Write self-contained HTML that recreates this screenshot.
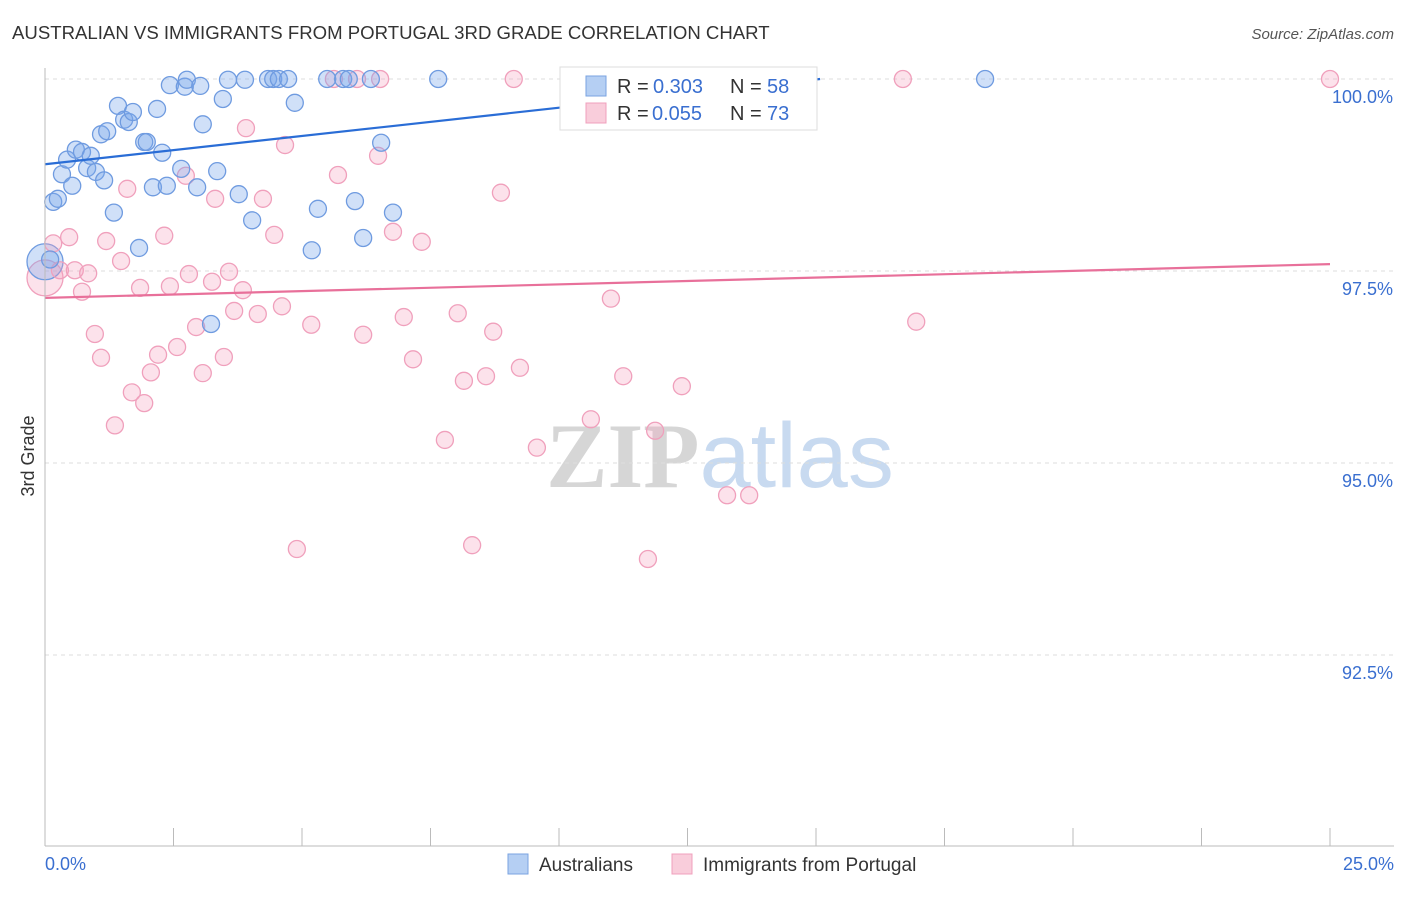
<!DOCTYPE html>
<html><head><meta charset="utf-8"><style>
body{margin:0;background:#fff;font-family:"Liberation Sans",sans-serif;}
svg text{font-family:"Liberation Sans",sans-serif;}
</style></head><body>
<svg id="chart" width="1406" height="892">
<text x="12" y="39" font-size="18.6" fill="#333">AUSTRALIAN VS IMMIGRANTS FROM PORTUGAL 3RD GRADE CORRELATION CHART</text>
<text x="1394" y="39" font-size="15" fill="#555" text-anchor="end" font-style="italic">Source: ZipAtlas.com</text>
<text x="720" y="487" font-size="92" fill="#ddd" text-anchor="middle" font-weight="bold"><tspan fill="#d6d6d6" font-family="Liberation Serif">ZIP</tspan><tspan fill="#c8daf0" font-weight="normal">atlas</tspan></text>
<g id="grid"></g><g id="pts"></g><g id="lines"></g>
<line x1="45" y1="68" x2="45" y2="846" stroke="#bbb"/>
<line x1="45" y1="846" x2="1394" y2="846" stroke="#bbb"/>
<text x="45" y="870" font-size="18" fill="#3a6fd0">0.0%</text>
<text x="1394" y="870" font-size="18" fill="#3a6fd0" text-anchor="end">25.0%</text>
<text x="34" y="456" font-size="18" fill="#333" text-anchor="middle" transform="rotate(-90 34 456)">3rd Grade</text>
<g>
<rect x="560" y="67" width="257" height="63" fill="#fff" stroke="#ddd"/>
<rect x="586" y="76" width="20" height="20" fill="#b5cff3" stroke="#7aa3e0"/>
<rect x="586" y="103" width="20" height="20" fill="#f9cddb" stroke="#f0a0bc"/>
<text x="617" y="93" font-size="20" fill="#333">R = </text><text x="653" y="93" font-size="20" fill="#3a6fd0">0.303</text>
<text x="730" y="93" font-size="20" fill="#333">N = </text><text x="767" y="93" font-size="20" fill="#3a6fd0">58</text>
<text x="617" y="120" font-size="20" fill="#333">R = </text><text x="652" y="120" font-size="20" fill="#3a6fd0">0.055</text>
<text x="730" y="120" font-size="20" fill="#333">N = </text><text x="767" y="120" font-size="20" fill="#3a6fd0">73</text>
</g>
<g>
<rect x="508" y="854" width="20" height="20" fill="#b5cff3" stroke="#7aa3e0"/>
<text x="539" y="871" font-size="19" fill="#333">Australians</text>
<rect x="672" y="854" width="20" height="20" fill="#f9cddb" stroke="#f0a0bc"/>
<text x="703" y="871" font-size="19" fill="#333">Immigrants from Portugal</text>
</g>
</svg>
<script>
const yTicks=[100,97.5,95,92.5];
const yTickLabels=["100.0%","97.5%","95.0%","92.5%"];
const xTicks=[0,2.5,5,7.5,10,12.5,15,17.5,20,22.5,25];
const blueX=[0.16,0.25,0.33,0.43,0.53,0.60,0.72,0.82,0.89,0.99,1.15,1.09,1.21,1.34,1.42,1.54,1.63,1.71,1.83,1.93,1.98,2.10,2.18,2.28,2.37,2.43,2.65,2.72,2.76,2.96,3.02,3.07,3.23,3.35,3.46,3.56,3.77,3.89,4.03,4.34,4.44,4.55,4.73,4.86,5.19,5.31,5.49,5.80,5.91,6.03,6.19,6.34,6.54,6.77,7.65,18.29,0.10];
const blueY=[98.40,98.44,98.76,98.95,98.61,99.08,99.05,98.84,99.00,98.79,98.68,99.28,99.32,98.26,99.65,99.47,99.44,99.57,97.80,99.18,99.18,98.59,99.61,99.04,98.61,99.92,98.83,99.90,99.99,98.59,99.91,99.41,96.81,98.80,99.74,99.99,98.50,99.99,98.16,100,100,100,100,99.69,97.77,98.31,100,100,100,98.41,97.93,100,99.17,98.26,100,100,97.65];
const pinkX=[0.16,0.29,0.47,0.58,0.72,0.84,0.97,1.09,1.19,1.36,1.48,1.60,1.69,1.85,1.93,2.06,2.20,2.32,2.43,2.57,2.74,2.80,2.94,3.07,3.25,3.31,3.48,3.58,3.68,3.85,3.91,4.14,4.24,4.46,4.61,4.67,4.90,5.18,5.70,5.62,6.07,6.19,6.48,6.52,6.77,6.98,7.16,7.33,7.78,8.03,8.15,8.31,8.58,8.72,8.87,9.12,9.24,9.57,10.62,11.01,11.25,11.73,11.87,12.39,13.27,13.70,13.85,16.69,16.95,25.0];
const pinkY=[97.86,97.51,97.94,97.51,97.23,97.47,96.68,96.37,97.89,95.49,97.63,98.57,95.92,97.28,95.78,96.18,96.41,97.96,97.30,96.51,98.74,97.46,96.77,96.17,97.36,98.44,96.38,97.49,96.98,97.25,99.36,96.94,98.44,97.97,97.04,99.14,93.88,96.80,98.75,100,100,96.67,99.00,100,98.01,96.90,96.35,97.88,95.30,96.95,96.07,93.93,96.13,96.71,98.52,100,96.24,95.20,95.57,97.14,96.13,93.75,95.42,96.00,94.58,94.58,100,100,96.84,100];
const bigBlue=[0,97.62], bigPink=[0,97.41];
const blueTrend=[[0,98.89],[15.08,100.0]];
const pinkTrend=[[0,97.15],[25,97.59]];
const NS="http://www.w3.org/2000/svg";
const sx=v=>45+v/25*1285, sy=v=>79+(100-v)/2.5*192;
function mk(tag,attrs,parent){const e=document.createElementNS(NS,tag);for(const k in attrs)e.setAttribute(k,attrs[k]);document.getElementById(parent).appendChild(e);return e;}
yTicks.forEach((t,i)=>{
 const l=mk('line',{x1:45,x2:1394,y1:sy(t),y2:sy(t),stroke:'#ddd','stroke-dasharray':'4,4'},'grid');
 
 
 const tx=mk('text',{x:1393,y:sy(t)+24,'font-size':18,fill:'#3a6fd0','text-anchor':'end'},'grid');
 tx.textContent=yTickLabels[i];
 
 
});
xTicks.forEach(t=>{
 const l=mk('line',{x1:sx(t),x2:sx(t),y1:828,y2:846,stroke:'#bbb'},'grid');
 
 
});
function dot(x,y,r,cls){
 const blue=cls==='b';
 const c=mk('circle',{cx:sx(x),cy:sy(y),r:r,fill:blue?'rgba(120,165,235,0.35)':'rgba(245,160,190,0.3)',stroke:blue?'#6f9be0':'#f0a0bc','stroke-width':1.3},'pts');
 
 
}
dot(bigPink[0],bigPink[1],18,'p');
dot(bigBlue[0],bigBlue[1],18,'b');
pinkX.forEach((x,i)=>dot(x,pinkY[i],8.5,'p'));
blueX.forEach((x,i)=>dot(x,blueY[i],8.5,'b'));
const bl=mk('line',{x1:sx(blueTrend[0][0]),y1:sy(blueTrend[0][1]),x2:sx(blueTrend[1][0]),y2:sy(blueTrend[1][1]),stroke:'#2a6dd6','stroke-width':2.2},'lines');


const pl=mk('line',{x1:sx(pinkTrend[0][0]),y1:sy(pinkTrend[0][1]),x2:sx(pinkTrend[1][0]),y2:sy(pinkTrend[1][1]),stroke:'#e8709a','stroke-width':2.2},'lines');


</script>
</body></html>
